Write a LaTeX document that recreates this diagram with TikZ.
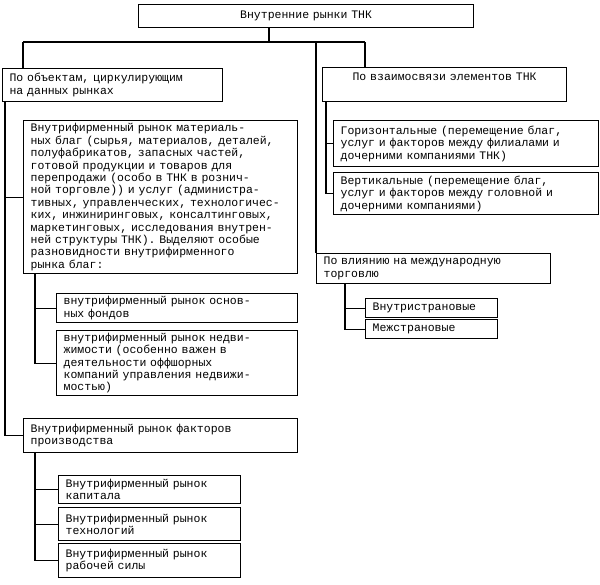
\documentclass[tikz,border=0pt]{standalone}
\usepackage{fontspec}
\newfontfamily\boxfont{Liberation Mono}
\newcommand\schemefont{\boxfont\fontsize{11.5pt}{12.4pt}\selectfont}
\usetikzlibrary{positioning,calc}

\begin{document}
\begin{tikzpicture}[x=1pt,y=-1pt,
    box/.style={draw, line width=1.2pt, anchor=north west, align=left,
                inner xsep=7pt, inner ysep=1pt, font=\schemefont},
    conn/.style={line width=1.2pt}]
  \useasboundingbox (0,0) rectangle (600,584);
  % Top level
  \node[box, align=center, text width=321pt, minimum height=23pt] (top) at (138,4) {Внутренние рынки ТНК};
  \node[box, text width=206pt, minimum height=33pt] (obj) at (2,68) {По объектам, циркулирующим\\на данных рынках};
  \node[box, align=center, text width=230pt, minimum height=34pt] (rel) at (322,67) {По взаимосвязи элементов ТНК\\\strut};
  \node[box, text width=220pt, minimum height=30pt] (infl) at (316,253) {По влиянию на международную\\торговлю};

  % Left branch
  \node[box, text width=260pt, minimum height=153pt] (mat) at (23,120) {Внутрифирменный рынок материаль-\\ных благ (сырья, материалов, деталей,\\полуфабрикатов, запасных частей,\\готовой продукции и товаров для\\перепродажи (особо в ТНК в рознич-\\ной торговле)) и услуг (администра-\\тивных, управленческих, технологичес-\\ких, инжиниринговых, консалтинговых,\\маркетинговых, исследования внутрен-\\ней структуры ТНК). Выделяют особые\\разновидности внутрифирменного\\рынка благ:};
  \node[box, text width=227pt, minimum height=29pt] (fund) at (56,293) {внутрифирменный рынок основ-\\ных фондов};
  \node[box, text width=227pt, minimum height=65pt] (real) at (56,330) {внутрифирменный рынок недви-\\жимости (особенно важен в\\деятельности оффшорных\\компаний управления недвижи-\\мостью)};
  \node[box, text width=260pt, minimum height=34pt] (fac) at (23,418) {Внутрифирменный рынок факторов\\производства};
  \node[box, text width=168pt, minimum height=28pt] (cap) at (58,475) {Внутрифирменный рынок\\капитала};
  \node[box, text width=168pt, minimum height=33pt] (tech) at (58,507) {Внутрифирменный рынок\\технологий};
  \node[box, text width=168pt, minimum height=34pt] (lab) at (58,543) {Внутрифирменный рынок\\рабочей силы};

  % Right branch
  \node[box, text width=251pt, minimum height=46pt] (hor) at (333,120) {Горизонтальные (перемещение благ,\\услуг и факторов между филиалами и\\дочерними компаниями ТНК)};
  \node[box, text width=251pt, minimum height=42pt] (ver) at (333,172) {Вертикальные (перемещение благ,\\услуг и факторов между головной и\\дочерними компаниями)};
  \node[box, text width=118pt, minimum height=19pt] (intra) at (365,298) {Внутристрановые};
  \node[box, text width=118pt, minimum height=19pt] (inter) at (365,319) {Межстрановые};

  % Define trunk points
  \coordinate (hub) at (269,42);
  \coordinate (barL) at (23,42);
  \coordinate (barM) at (316,42);
  \coordinate (barR) at (365,42);
  \coordinate (objtrunk) at ([xshift=3pt]obj.south west);
  \coordinate (mattrunk) at ([xshift=12pt]mat.south west);
  \coordinate (factrunk) at ([xshift=12pt]fac.south west);
  \coordinate (reltrunk) at ([xshift=4pt]rel.south west);
  \coordinate (infltrunk) at ([xshift=29pt]infl.south west);

  % Draw connectors
  \draw[conn] (top.south -| hub) -- (hub);
  \draw[conn] (barL) -- (barR);
  \draw[conn] (barL) -- (barL |- obj.north);
  \draw[conn] (barR) -- (barR |- rel.north);
  \draw[conn] (barM) -- (barM |- infl.north);

  \draw[conn] (objtrunk) |- (fac.west);
  \draw[conn] (objtrunk |- mat.west) -- (mat.west);
  \draw[conn] (mattrunk) |- (real.west);
  \draw[conn] (mattrunk |- fund.west) -- (fund.west);
  \draw[conn] (factrunk) |- (lab.west);
  \foreach \n in {cap, tech}
      \draw[conn] (factrunk |- \n.west) -- (\n.west);
  \draw[conn] (reltrunk) |- (ver.west);
  \draw[conn] (reltrunk |- hor.west) -- (hor.west);
  \draw[conn] (infltrunk) |- (inter.west);
  \draw[conn] (infltrunk |- intra.west) -- (intra.west);
\end{tikzpicture}
\end{document}
